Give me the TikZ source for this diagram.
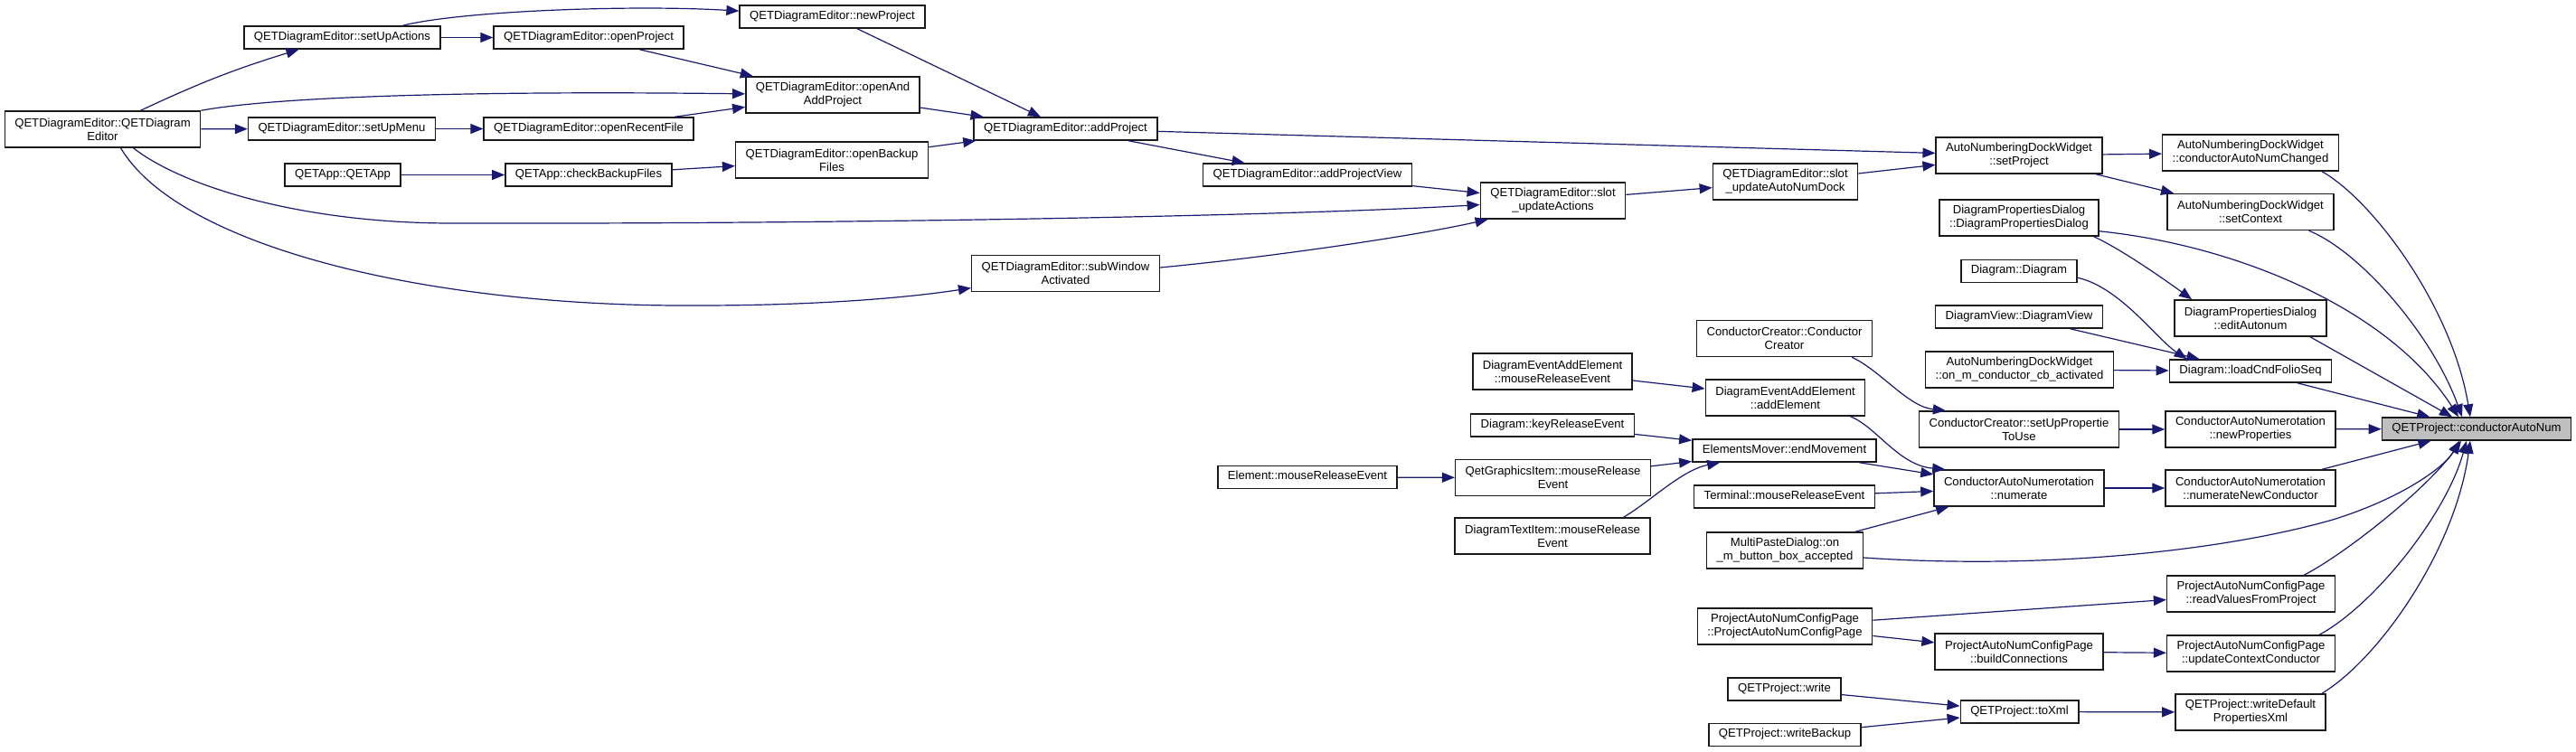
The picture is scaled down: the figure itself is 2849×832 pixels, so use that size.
\documentclass[tikz,border=0pt]{standalone}
\usepackage{fontspec}
\setmainfont{Liberation Sans}
\usetikzlibrary{arrows.meta}
\definecolor{callblue}{HTML}{191970}
\definecolor{boxline}{HTML}{1A1A1A}
\definecolor{hilite}{HTML}{BFBFBF}

\begin{document}
\begin{tikzpicture}[
  x=1pt, y=1pt,
  fn/.style={rectangle, draw=boxline, line width=1.5pt, fill=white, font=\fontsize{13.1}{15}\selectfont, inner xsep=11pt, inner ysep=2pt, minimum height=25pt, text height=9.6pt, text depth=4pt},
  fn2/.style={rectangle, draw=boxline, line width=1.5pt, fill=white, font=\fontsize{13.1}{15}\selectfont, align=center, inner xsep=11pt, inner ysep=2pt, minimum height=40pt},
  call/.style={draw=callblue, line width=1.2pt, -{Triangle[length=14pt, width=11pt]}}
]
  \useasboundingbox (0,0) rectangle (2849,-832);

  \node[fn2] (qde) at (113.5,-143) {QETDiagramEditor::QETDiagram\\Editor};
  \node[fn] (sua) at (378.5,-41.5) {QETDiagramEditor::setUpActions};
  \node[fn] (op) at (651,-41.5) {QETDiagramEditor::openProject};
  \node[fn] (np) at (920.5,-18.5) {QETDiagramEditor::newProject};
  \node[fn2] (oaap) at (921,-105) {QETDiagramEditor::openAnd\\AddProject};
  \node[fn] (sum) at (378,-142.5) {QETDiagramEditor::setUpMenu};
  \node[fn] (orf) at (651,-142.5) {QETDiagramEditor::openRecentFile};
  \node[fn] (app) at (379,-193.5) {QETApp::QETApp};
  \node[fn] (cbf) at (651,-193.5) {QETApp::checkBackupFiles};
  \node[fn2] (obf) at (920,-177) {QETDiagramEditor::openBackup\\Files};
  \node[fn] (ap) at (1178.5,-142.5) {QETDiagramEditor::addProject};
  \node[fn] (apv) at (1446,-193.5) {QETDiagramEditor::addProjectView};
  \node[fn2] (sla) at (1717.5,-222) {QETDiagramEditor::slot\\\_updateActions};
  \node[fn2] (swa) at (1178.5,-302.5) {QETDiagramEditor::subWindow\\Activated};
  \node[fn2] (slad) at (1974.5,-201) {QETDiagramEditor::slot\\\_updateAutoNumDock};
  \node[fn2] (asp) at (2233,-172) {AutoNumberingDockWidget\\::setProject};
  \node[fn2] (canc) at (2489,-169) {AutoNumberingDockWidget\\::conductorAutoNumChanged};
  \node[fn2] (asc) at (2489,-234.5) {AutoNumberingDockWidget\\::setContext};
  \node[fn2] (dpd) at (2233,-241) {DiagramPropertiesDialog\\::DiagramPropertiesDialog};
  \node[fn] (dd) at (2233,-300) {Diagram::Diagram};
  \node[fn2] (dea) at (2489,-352) {DiagramPropertiesDialog\\::editAutonum};
  \node[fn] (dv) at (2233,-350.5) {DiagramView::DiagramView};
  \node[fn2] (aom) at (2233.5,-409) {AutoNumberingDockWidget\\::on\_m\_conductor\_cb\_activated};
  \node[fn] (lcf) at (2489,-410.5) {Diagram::loadCndFolioSeq};
  \node[fn2] (ccc) at (1973.5,-374.5) {ConductorCreator::Conductor\\Creator};
  \node[fn2] (demr) at (1717,-411) {DiagramEventAddElement\\::mouseReleaseEvent};
  \node[fn2] (dae) at (1974.5,-440) {DiagramEventAddElement\\::addElement};
  \node[fn] (krl) at (1717,-470.5) {Diagram::keyReleaseEvent};
  \node[fn2] (csp) at (2233,-475) {ConductorCreator::setUpPropertie\\ToUse};
  \node[fn2] (cnp) at (2489,-475) {ConductorAutoNumerotation\\::newProperties};
  \node[fn, fill=hilite] (tgt) at (2739,-474.5) {QETProject::conductorAutoNum};
  \node[fn] (emv) at (1973.5,-498.5) {ElementsMover::endMovement};
  \node[fn] (elm) at (1446,-528) {Element::mouseReleaseEvent};
  \node[fn2] (qgi) at (1717.5,-528.5) {QetGraphicsItem::mouseRelease\\Event};
  \node[fn] (tmr) at (1973.5,-549.5) {Terminal::mouseReleaseEvent};
  \node[fn2] (cnu) at (2233,-540) {ConductorAutoNumerotation\\::numerate};
  \node[fn2] (cnn) at (2489,-540) {ConductorAutoNumerotation\\::numerateNewConductor};
  \node[fn2] (dti) at (1717,-593) {DiagramTextItem::mouseRelease\\Event};
  \node[fn2] (mpd) at (1974,-609) {MultiPasteDialog::on\\\_m\_button\_box\_accepted};
  \node[fn2] (prv) at (2489.5,-657) {ProjectAutoNumConfigPage\\::readValuesFromProject};
  \node[fn2] (pac) at (1974,-693) {ProjectAutoNumConfigPage\\::ProjectAutoNumConfigPage};
  \node[fn2] (pbc) at (2233,-721) {ProjectAutoNumConfigPage\\::buildConnections};
  \node[fn2] (puc) at (2489.5,-723) {ProjectAutoNumConfigPage\\::updateContextConductor};
  \node[fn] (qw) at (1973.5,-762.5) {QETProject::write};
  \node[fn] (qtx) at (2233.5,-787.5) {QETProject::toXml};
  \node[fn2] (qwd) at (2489,-788) {QETProject::writeDefault\\PropertiesXml};
  \node[fn] (qwb) at (1974,-813) {QETProject::writeBackup};

  \draw[call] ([xshift=42pt]qde.north) to[bend left=4] ([xshift=-48pt]sua.south);
  \draw[call] (qde.north east) .. controls (300,-108) and (500,-100) .. (oaap);
  \draw[call] (qde) -- (sum);
  \draw[call] ([xshift=34pt]qde.south) .. controls (200,-205) and (330,-247) .. (500,-247) .. controls (900,-248) and (1400,-240) .. (sla);
  \draw[call] ([xshift=20pt]qde.south) .. controls (200,-275) and (480,-340) .. (772,-338) .. controls (900,-338) and (1000,-330) .. (swa);
  \draw[call] ([xshift=67pt]sua.north) .. controls (510,-12) and (700,-5) .. (np);
  \draw[call] (sua) -- (op);
  \draw[call] (op) -- (oaap);
  \draw[call] (sum) -- (orf);
  \draw[call] (orf) -- (oaap);
  \draw[call] (app) -- (cbf);
  \draw[call] (cbf) -- (obf);
  \draw[call] (np) -- (ap);
  \draw[call] (oaap) -- (ap);
  \draw[call] (obf) -- (ap);
  \draw[call] (ap) -- (asp);
  \draw[call] (ap) -- (apv);
  \draw[call] (apv) -- (sla);
  \draw[call] ([yshift=6.5pt]swa.east) .. controls (1400,-285) and (1560,-262) .. ([xshift=9pt]sla.south west);
  \draw[call] (sla) -- (slad);
  \draw[call] (slad) -- (asp);
  \draw[call] (asp) -- (canc);
  \draw[call] (asp) -- (asc);
  \draw[call] ([xshift=-19pt]canc.south east) .. controls (2625,-222) and (2712,-340) .. ([xshift=-7pt]tgt.north);
  \draw[call] ([xshift=-28pt]asc.south east) .. controls (2610,-278) and (2690,-370) .. ([xshift=-16pt]tgt.north);
  \draw[call] ([yshift=6pt]dpd.south east) .. controls (2480,-272) and (2645,-345) .. ([xshift=-20pt]tgt.north);
  \draw[call] ([xshift=-6pt]dpd.south east) .. controls (2345,-275) and (2395,-310) .. ([xshift=20pt]dea.north west);
  \draw[call] ([yshift=6pt]dd.south east) .. controls (2345,-318) and (2385,-375) .. ([xshift=20pt]lcf.north west);
  \draw[call] (dv) -- (lcf);
  \draw[call] (aom) -- (lcf);
  \draw[call] ([xshift=66pt]dea.south) -- ([xshift=-27pt]tgt.north);
  \draw[call] (lcf) -- (tgt);
  \draw[call] ([xshift=-23pt]ccc.south east) .. controls (2080,-410) and (2110,-450) .. ([xshift=30pt]csp.north west);
  \draw[call] (csp) -- (cnp);
  \draw[call] (cnp) -- (tgt);
  \draw[call] (demr) -- (dae);
  \draw[call] ([xshift=-17pt]dae.south east) .. controls (2075,-472) and (2100,-515) .. ([xshift=13pt]cnu.north west);
  \draw[call] (krl) -- (emv);
  \draw[call] (qgi) -- (emv);
  \draw[call] (elm) -- (qgi);
  \draw[call] ([xshift=-30pt]dti.north east) .. controls (1825,-555) and (1860,-520) .. ([xshift=31pt]emv.south west);
  \draw[call] (emv) -- (cnu);
  \draw[call] (tmr) -- (cnu);
  \draw[call] (mpd) -- (cnu);
  \draw[call] ([yshift=-8pt]mpd.east) .. controls (2250,-630) and (2450,-612) .. (2580,-575) .. controls (2660,-550) and (2705,-515) .. ([xshift=-19pt]tgt.south);
  \draw[call] (cnu) -- (cnn);
  \draw[call] (cnn) -- (tgt);
  \draw[call] (pac) -- (prv);
  \draw[call] (pac) -- (pbc);
  \draw[call] ([xshift=-35pt]prv.north east) .. controls (2595,-612) and (2685,-540) .. ([xshift=-17pt]tgt.south);
  \draw[call] (pbc) -- (puc);
  \draw[call] ([xshift=-18pt]puc.north east) .. controls (2625,-670) and (2705,-570) .. ([xshift=-11pt]tgt.south);
  \draw[call] (qw) -- (qtx);
  \draw[call] (qwb) -- (qtx);
  \draw[call] (qtx) -- (qwd);
  \draw[call] ([xshift=-5pt]qwd.north east) .. controls (2630,-730) and (2715,-610) .. ([xshift=-7pt]tgt.south);
\end{tikzpicture}
\end{document}
